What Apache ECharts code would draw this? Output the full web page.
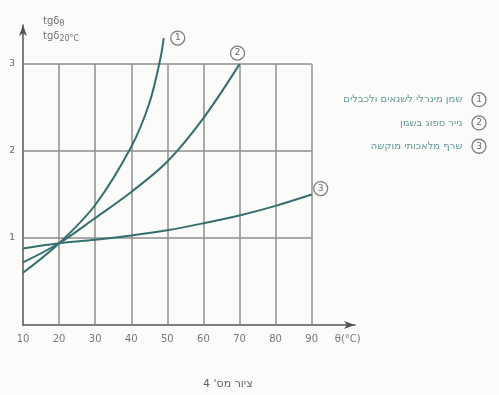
<!DOCTYPE html>
<html>
<head>
<meta charset="utf-8">
<script src="https://cdn.jsdelivr.net/npm/echarts@6/dist/echarts.min.js"></script>
<style>
  html, body { margin: 0; padding: 0; background: #fbfbf9; }
  #chart { width: 499px; height: 395px; }
</style>
</head>
<body>
<div id="chart"></div>
<script>
// Temperature (°C) and loss-factor ratio tgδθ / tgδ20°C for three insulating materials
const temps1 = [10, 20, 30, 40, 45, 48, 49];
const ratio1 = [0.60, 0.94, 1.38, 2.05, 2.55, 3.05, 3.30];
const temps2 = [10, 20, 30, 40, 50, 60, 70];
const ratio2 = [0.72, 0.94, 1.23, 1.53, 1.88, 2.38, 3.0];
const temps3 = [10, 20, 30, 40, 50, 60, 70, 80, 90];
const ratio3 = [0.88, 0.94, 0.98, 1.03, 1.09, 1.17, 1.26, 1.37, 1.5];

const seriesNames = ['שמן מינרלי לשנאים ולכבלים', 'נייר ספוג בשמן', 'שרף מלאכותי מוקשה'];
const seriesNumbers = ['1', '2', '3'];

const xTicks = [10, 20, 30, 40, 50, 60, 70, 80, 90];
const yTicks = [1, 2, 3];
const xUnitLabel = 'θ(°C)';
const caption = "ציור מס' 4";

const curveColor = '#346f6e';
const gridColor = '#8e8e8e';
const axisColor = '#555';

const toPairs = (xs, ys) => xs.map((x, i) => [x, ys[i]]);

// grid cells: vertical lines at every x tick, horizontal lines at every y tick
const gridLines = [];
xTicks.slice(1).forEach(x => gridLines.push([{ coord: [x, 0] }, { coord: [x, yTicks[yTicks.length - 1]] }]));
yTicks.forEach(y => gridLines.push([{ coord: [xTicks[0], y] }, { coord: [xTicks[xTicks.length - 1], y] }]));

const circleRich = {
  n: {
    width: 12, height: 12, lineHeight: 12,
    borderRadius: 8, borderWidth: 1.3, borderColor: '#7d7d7d',
    align: 'center', verticalAlign: 'middle',
    fontSize: 9, color: '#6a6a6a', fontFamily: 'DejaVu Sans', padding: [1, 1, 1, 1]
  }
};

function curve(name, num, data, labelOffset) {
  return {
    name: name,
    type: 'line',
    smooth: 0.35,
    symbol: 'none',
    data: data,
    endLabel: {
      show: true, offset: labelOffset, distance: 3,
      formatter: '{n|' + num + '}', rich: circleRich
    },
    lineStyle: { color: curveColor, width: 2 },
    itemStyle: { color: curveColor },
    z: 5
  };
}

const chart = echarts.init(document.getElementById('chart'), null, { renderer: 'canvas' });

chart.setOption({
  backgroundColor: '#fbfbf9',
  animation: false,
  grid: { left: 23, right: 144, top: 25, bottom: 70 },
  xAxis: {
    type: 'value', min: 10, max: 102, interval: 10,
    axisLine: { show: true, lineStyle: { color: axisColor, width: 1.5 }, symbol: ['none', 'arrow'], symbolSize: [6, 11] },
    axisTick: { show: false },
    splitLine: { show: false },
    axisLabel: {
      color: '#777', fontSize: 10, margin: 9, fontFamily: 'DejaVu Sans',
      showMaxLabel: false,
      formatter: v => v === 100 ? xUnitLabel : (xTicks.includes(v) ? String(v) : '')
    }
  },
  yAxis: {
    type: 'value', min: 0, max: 3.45, interval: 1,
    axisLine: { show: true, lineStyle: { color: axisColor, width: 1.5 }, symbol: ['none', 'arrow'], symbolSize: [6, 11] },
    axisTick: { show: false },
    splitLine: { show: false },
    axisLabel: {
      color: '#666', fontSize: 9, margin: 8, fontFamily: 'DejaVu Sans',
      formatter: v => yTicks.includes(v) ? String(v) : ''
    }
  },
  legend: {
    orient: 'vertical', right: 3, top: 87, align: 'right',
    itemGap: 8, icon: 'none', itemWidth: 0, itemHeight: 0,
    data: seriesNames,
    textStyle: { color: '#5f9898', fontSize: 10, fontFamily: 'DejaVu Sans', rich: Object.assign({ t: { color: '#5f9898', fontSize: 10 } }, circleRich) },
    formatter: name => '{t|' + name + '}   {n|' + seriesNumbers[seriesNames.indexOf(name)] + '}'
  },
  title: {
    text: caption, left: 198, top: 374,
    textStyle: { color: '#666', fontSize: 11, fontWeight: 'normal', fontFamily: 'DejaVu Sans' }
  },
  graphic: [{
    type: 'text', left: 43, top: 15,
    style: {
      text: '{a|tgδ}{s|θ}\n{a|tgδ}{s|20°C}',
      fill: '#707070',
      rich: {
        a: { fontSize: 10, fill: '#707070', fontFamily: 'DejaVu Sans', lineHeight: 15 },
        s: { fontSize: 8, fill: '#707070', fontFamily: 'DejaVu Sans', padding: [5, 0, 0, 0], lineHeight: 15 }
      }
    }
  }],
  series: [
    {
      type: 'line', data: [], silent: true,
      markLine: {
        silent: true, symbol: 'none', label: { show: false },
        lineStyle: { color: gridColor, width: 1.5, type: 'solid' },
        data: gridLines
      },
      z: 1
    },
    curve(seriesNames[0], seriesNumbers[0], toPairs(temps1, ratio1), [4, 0]),
    curve(seriesNames[1], seriesNumbers[1], toPairs(temps2, ratio2), [-12, -11]),
    curve(seriesNames[2], seriesNumbers[2], toPairs(temps3, ratio3), [-1, -6])
  ]
});
</script>
</body>
</html>
